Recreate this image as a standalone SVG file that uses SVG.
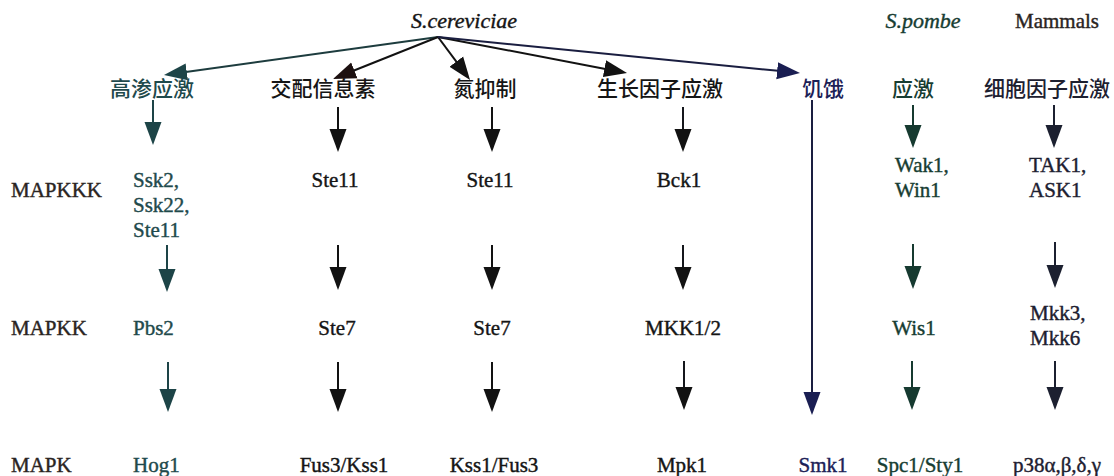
<svg xmlns="http://www.w3.org/2000/svg" width="1114" height="476" viewBox="0 0 1114 476">
  <style>
    .lat { font-family: 'Liberation Serif', 'DejaVu Serif', serif; font-size: 21px; stroke-width: 0.4px; }
    .it { font-style: italic; font-size: 22px; }
    .cjk { font-family: 'Noto Sans CJK SC', 'Noto Sans', sans-serif; font-size: 21px; font-weight: 500; }
    .mid { text-anchor: middle; }
    .lbl { fill: #2a2422; stroke: #2a2422; }
    .teal { fill: #1f4a4c; }
    .blk { fill: #151515; }
    .navy { fill: #1c2156; }
    .grn { fill: #173d32; }
    .dnv { fill: #1d2030; }
    .lat.teal { stroke: #1f4a4c; }
    .lat.blk { stroke: #151515; }
    .lat.navy { stroke: #1c2156; }
    .lat.grn { stroke: #173d32; }
    .lat.dnv { stroke: #1d2030; }
    line { stroke-width: 2; fill: none; }
  </style>
  <defs>
    <marker id="ah-teal" viewBox="0 -9 24 18" refX="1" refY="0" markerWidth="24" markerHeight="18" markerUnits="userSpaceOnUse" orient="auto"><path d="M0,-8.5 L23,0 L0,8.5 z" fill="#1d4447"/></marker>
    <marker id="ah-blk" viewBox="0 -9 24 18" refX="1" refY="0" markerWidth="24" markerHeight="18" markerUnits="userSpaceOnUse" orient="auto"><path d="M0,-8.5 L23,0 L0,8.5 z" fill="#121212"/></marker>
    <marker id="ah-red" viewBox="0 -9 24 18" refX="1" refY="0" markerWidth="24" markerHeight="18" markerUnits="userSpaceOnUse" orient="auto"><path d="M0,-8.5 L23,0 L0,8.5 z" fill="#1c1010"/></marker>
    <marker id="ah-navy" viewBox="0 -9 24 18" refX="1" refY="0" markerWidth="24" markerHeight="18" markerUnits="userSpaceOnUse" orient="auto"><path d="M0,-8.5 L23,0 L0,8.5 z" fill="#1a1e52"/></marker>
    <marker id="ah-grn" viewBox="0 -9 24 18" refX="1" refY="0" markerWidth="24" markerHeight="18" markerUnits="userSpaceOnUse" orient="auto"><path d="M0,-8.5 L23,0 L0,8.5 z" fill="#163a30"/></marker>
    <marker id="ah-dnv" viewBox="0 -9 24 18" refX="1" refY="0" markerWidth="24" markerHeight="18" markerUnits="userSpaceOnUse" orient="auto"><path d="M0,-8.5 L23,0 L0,8.5 z" fill="#1c2030"/></marker>
  </defs>
  <rect width="1114" height="476" fill="#ffffff"/>

  <!-- organism headers -->
  <g id="hdr-scer"><text class="lat it mid blk" x="464" y="28">S.cereviciae</text></g>
  <g id="hdr-spom"><text class="lat it mid grn" x="923" y="28">S.pombe</text></g>
  <g id="hdr-mamm"><text class="lat mid lbl" x="1057" y="28">Mammals</text></g>

  <!-- tier labels -->
  <g id="tier-mapkkk"><text class="lat lbl" x="11" y="197">MAPKKK</text></g>
  <g id="tier-mapkk"><text class="lat lbl" x="11" y="335">MAPKK</text></g>
  <g id="tier-mapk"><text class="lat lbl" x="11" y="472">MAPK</text></g>

  <!-- stimuli -->
  <g id="stim-osmo"><text class="cjk mid teal" x="152" y="96">高渗应激</text></g>
  <g id="stim-mating"><text class="cjk mid blk" x="323" y="96">交配信息素</text></g>
  <g id="stim-nitrogen"><text class="cjk mid blk" x="485" y="96">氮抑制</text></g>
  <g id="stim-growth"><text class="cjk mid blk" x="660" y="96">生长因子应激</text></g>
  <g id="stim-starve"><text class="cjk mid navy" x="823" y="96">饥饿</text></g>
  <g id="stim-pombe"><text class="cjk mid grn" x="913" y="96">应激</text></g>
  <g id="stim-cytokine"><text class="cjk mid dnv" x="1047" y="96">细胞因子应激</text></g>

  <!-- MAPKKK tier -->
  <g id="kkk-osmo"><text class="lat teal" x="133" y="187">Ssk2,</text><text class="lat teal" x="133" y="212">Ssk22,</text><text class="lat teal" x="133" y="237">Ste11</text></g>
  <g id="kkk-mating"><text class="lat mid blk" x="335" y="187">Ste11</text></g>
  <g id="kkk-nitrogen"><text class="lat mid blk" x="490" y="187">Ste11</text></g>
  <g id="kkk-growth"><text class="lat mid blk" x="679" y="187">Bck1</text></g>
  <g id="kkk-pombe"><text class="lat grn" x="895" y="172">Wak1,</text><text class="lat grn" x="895" y="197">Win1</text></g>
  <g id="kkk-mamm"><text class="lat dnv" x="1029" y="172">TAK1,</text><text class="lat dnv" x="1029" y="197">ASK1</text></g>

  <!-- MAPKK tier -->
  <g id="kk-osmo"><text class="lat teal" x="133" y="335">Pbs2</text></g>
  <g id="kk-mating"><text class="lat mid blk" x="337" y="335">Ste7</text></g>
  <g id="kk-nitrogen"><text class="lat mid blk" x="492" y="335">Ste7</text></g>
  <g id="kk-growth"><text class="lat mid blk" x="683" y="335">MKK1/2</text></g>
  <g id="kk-pombe"><text class="lat mid grn" x="914" y="335">Wis1</text></g>
  <g id="kk-mamm"><text class="lat dnv" x="1030" y="320">Mkk3,</text><text class="lat dnv" x="1030" y="345">Mkk6</text></g>

  <!-- MAPK tier -->
  <g id="k-osmo"><text class="lat teal" x="133" y="472">Hog1</text></g>
  <g id="k-mating"><text class="lat mid blk" x="344" y="472">Fus3/Kss1</text></g>
  <g id="k-nitrogen"><text class="lat mid blk" x="494" y="472">Kss1/Fus3</text></g>
  <g id="k-growth"><text class="lat mid blk" x="682" y="472">Mpk1</text></g>
  <g id="k-starve"><text class="lat mid navy" x="823" y="472">Smk1</text></g>
  <g id="k-pombe"><text class="lat mid grn" x="920" y="472">Spc1/Sty1</text></g>
  <g id="k-mamm"><text class="lat mid dnv" x="1057" y="472">p38α,β,δ,γ</text></g>

  <!-- connectors -->
  <g id="connectors">
    <!-- fan from S.cereviciae -->
    <line x1="438" y1="37" x2="185.8" y2="72" stroke="#1d3c3e" marker-end="url(#ah-teal)"/>
    <line x1="438" y1="37" x2="353.4" y2="70.8" stroke="#121212" marker-end="url(#ah-red)"/>
    <line x1="438" y1="37" x2="456.9" y2="62.4" stroke="#121212" marker-end="url(#ah-blk)"/>
    <line x1="438" y1="37" x2="605.4" y2="68.9" stroke="#121212" marker-end="url(#ah-blk)"/>
    <line x1="438" y1="37" x2="778.1" y2="70.8" stroke="#1a1e40" marker-end="url(#ah-navy)"/>

    <!-- stimulus to MAPKKK -->
    <line x1="153" y1="100" x2="153" y2="123" stroke="#1d4447" marker-end="url(#ah-teal)"/>
    <line x1="338" y1="107" x2="338" y2="130" stroke="#121212" marker-end="url(#ah-blk)"/>
    <line x1="492" y1="107" x2="492" y2="130" stroke="#121212" marker-end="url(#ah-blk)"/>
    <line x1="683" y1="107" x2="683" y2="130" stroke="#15171c" marker-end="url(#ah-blk)"/>
    <line x1="913" y1="105" x2="913" y2="126" stroke="#163a30" marker-end="url(#ah-grn)"/>
    <line x1="1054" y1="105" x2="1054" y2="126" stroke="#1c2030" marker-end="url(#ah-dnv)"/>

    <!-- MAPKKK to MAPKK -->
    <line x1="167" y1="245" x2="167" y2="270" stroke="#1d4447" marker-end="url(#ah-teal)"/>
    <line x1="338" y1="245" x2="338" y2="268" stroke="#121212" marker-end="url(#ah-blk)"/>
    <line x1="492" y1="245" x2="492" y2="268" stroke="#121212" marker-end="url(#ah-blk)"/>
    <line x1="683" y1="245" x2="683" y2="268" stroke="#15171c" marker-end="url(#ah-blk)"/>
    <line x1="913" y1="244" x2="913" y2="267" stroke="#163a30" marker-end="url(#ah-grn)"/>
    <line x1="1055" y1="242" x2="1055" y2="266" stroke="#1c2030" marker-end="url(#ah-dnv)"/>

    <!-- MAPKK to MAPK -->
    <line x1="168" y1="362" x2="168" y2="390" stroke="#1d4447" marker-end="url(#ah-teal)"/>
    <line x1="338" y1="362" x2="338" y2="390" stroke="#121212" marker-end="url(#ah-blk)"/>
    <line x1="492" y1="362" x2="492" y2="390" stroke="#121212" marker-end="url(#ah-blk)"/>
    <line x1="684" y1="361" x2="684" y2="388" stroke="#15171c" marker-end="url(#ah-blk)"/>
    <line x1="912" y1="361" x2="912" y2="388" stroke="#163a30" marker-end="url(#ah-grn)"/>
    <line x1="1055" y1="361" x2="1055" y2="388" stroke="#1c2030" marker-end="url(#ah-dnv)"/>

    <!-- starvation: direct to Smk1 -->
    <line x1="812" y1="100" x2="812" y2="393" stroke="#1a1e40" marker-end="url(#ah-navy)"/>
  </g>
</svg>
